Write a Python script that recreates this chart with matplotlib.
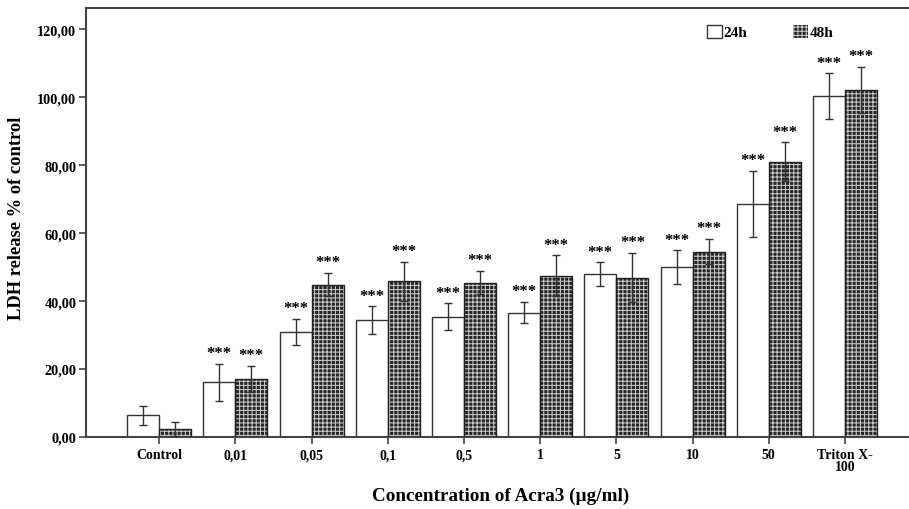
import matplotlib
matplotlib.use("Agg")
import matplotlib.pyplot as plt
import numpy as np
from matplotlib.patches import Patch

categories = ["Control", "0,01", "0,05", "0,1", "0,5", "1", "5", "10", "50", "Triton X-\n100"]
mean_24h = [6.4, 16.1, 31.0, 34.4, 35.4, 36.6, 47.9, 49.9, 68.5, 100.2]
err_24h = [2.8, 5.4, 3.8, 4.0, 3.9, 3.2, 3.5, 5.0, 9.8, 6.8]
mean_48h = [2.4, 17.1, 44.8, 45.8, 45.4, 47.4, 46.9, 54.5, 81.0, 102.1]
err_48h = [2.1, 3.9, 3.4, 5.7, 3.4, 6.0, 7.2, 3.7, 5.7, 6.8]
sig_24h = ["", "***", "***", "***", "***", "***", "***", "***", "***", "***"]
sig_48h = ["", "***", "***", "***", "***", "***", "***", "***", "***", "***"]
yticks = [0, 20, 40, 60, 80, 100, 120]
ytick_labels = ["0,00", "20,00", "40,00", "60,00", "80,00", "100,00", "120,00"]

plt.rcParams['font.family'] = ['Liberation Serif', 'DejaVu Serif']
plt.rcParams['font.weight'] = 'bold'
plt.rcParams['hatch.linewidth'] = 0.75

fig = plt.figure(figsize=(9.09, 5.10), dpi=100)
W, H = 909, 510
ax = fig.add_axes([86 / W, (H - 438) / H, 1 - 86 / W, (438 - 9) / H])

x = np.arange(len(categories))
bw = 0.42
spine_c = '#444444'
hatch_face = '#262626'
hatch_line = '#c8c8c8'

ax.bar(x - bw / 2, mean_24h, bw, facecolor='white', edgecolor='#333333', linewidth=1.0, zorder=2)
ax.bar(x + bw / 2, mean_48h, bw, facecolor=hatch_face, edgecolor=hatch_line, hatch='++++', linewidth=0, zorder=2)
ax.bar(x + bw / 2, mean_48h, bw, facecolor='none', edgecolor='#222222', linewidth=1.0, zorder=3)

ax.errorbar(x - bw / 2, mean_24h, yerr=err_24h, fmt='none', ecolor='#333333', elinewidth=1.0, capsize=2.8, capthick=1.0, zorder=4)
ax.errorbar(x + bw / 2, mean_48h, yerr=err_48h, fmt='none', ecolor='#333333', elinewidth=1.0, capsize=2.8, capthick=1.0, zorder=4)

for i in range(len(categories)):
    if sig_24h[i]:
        ax.text(x[i] - bw / 2, mean_24h[i] + err_24h[i] + 0.8, sig_24h[i], ha='center', va='bottom', fontsize=12, fontweight='bold')
    if sig_48h[i]:
        ax.text(x[i] + bw / 2, mean_48h[i] + err_48h[i] + 0.8, sig_48h[i], ha='center', va='bottom', fontsize=12, fontweight='bold')

ax.set_xlim(-0.96, 9.84)
ax.set_ylim(0, 126.2)
ax.set_xticks(x)
ax.set_xticklabels(categories, fontsize=10, fontweight='bold', linespacing=0.85)
ax.set_yticks(yticks)
ax.set_yticklabels(ytick_labels, fontsize=10.3, fontweight='bold')
ax.tick_params(axis='x', direction='out', length=5, width=1.2, color=spine_c, pad=3)
ax.tick_params(axis='y', direction='out', length=5, width=1.2, color=spine_c, pad=2)

for s in ['left', 'bottom', 'top']:
    ax.spines[s].set_color(spine_c)
    ax.spines[s].set_linewidth(1.5)
ax.spines['right'].set_visible(False)

fig.text(17 / W, 1 - 218 / H, "LDH release % of control", rotation=90, ha='center', va='center', fontsize=13.3, fontweight='bold')
fig.text(501 / W, 1 - 496 / H, "Concentration of Acra3 (\u00b5g/ml)", ha='center', va='center', fontsize=13.8, fontweight='bold')

h1 = Patch(facecolor='white', edgecolor='#333333', linewidth=1.0, label='24h')
h2 = Patch(facecolor=hatch_face, edgecolor=hatch_line, hatch='++++', linewidth=0, label='48h')
leg = fig.legend(handles=[h1, h2], loc='center left', bbox_to_anchor=(707 / W, 1 - 33 / H), ncol=2, frameon=False,
                 fontsize=11, handlelength=0.95, handleheight=0.95, handletextpad=0.15, columnspacing=3.0, borderpad=0, borderaxespad=0)
for t in leg.get_texts():
    t.set_fontweight('bold')

fig.savefig("out.png", dpi=100)
